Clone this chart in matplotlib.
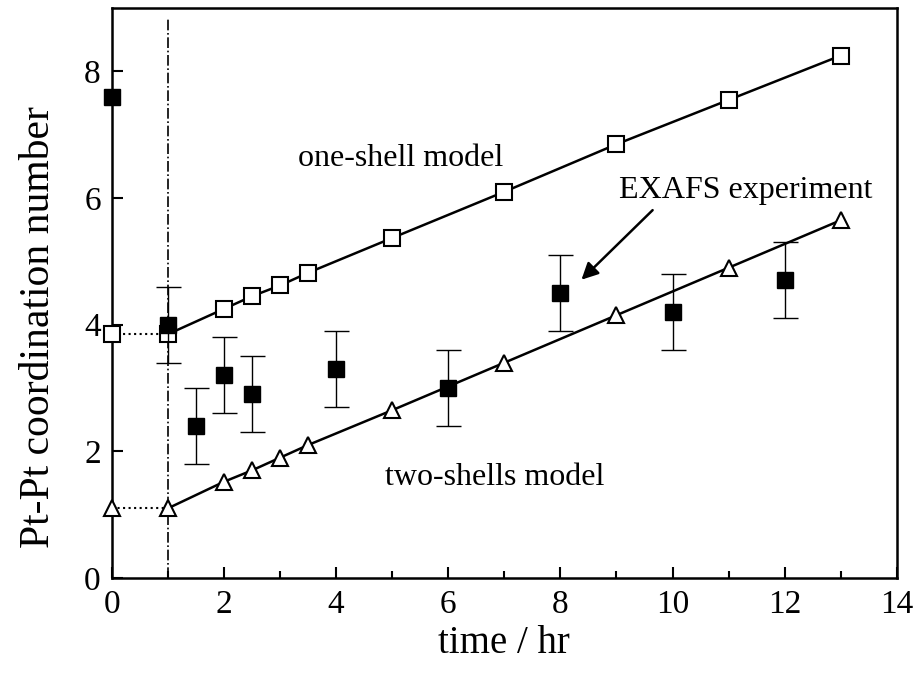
import matplotlib
matplotlib.use("Agg")
from matplotlib import pyplot as plt
from matplotlib.ticker import MultipleLocator

# model curves (time in hr)
t_model = [0, 1, 2, 2.5, 3, 3.5, 5, 7, 9, 11, 13]
one_shell = [3.85, 3.85, 4.25, 4.45, 4.62, 4.82, 5.37, 6.1, 6.85, 7.55, 8.25]
two_shells = [1.1, 1.1, 1.52, 1.7, 1.9, 2.1, 2.65, 3.4, 4.15, 4.9, 5.65]

# EXAFS points
t_exp = [1, 1.5, 2, 2.5, 4, 6, 8, 10, 12]
n_exp = [4.0, 2.4, 3.2, 2.9, 3.3, 3.0, 4.5, 4.2, 4.7]
n_err = [0.6, 0.6, 0.6, 0.6, 0.6, 0.6, 0.6, 0.6, 0.6]
t0_exp = 0
n0_exp = 7.6

plt.rcParams['font.family'] = ['Liberation Serif', 'DejaVu Serif']

fig = plt.figure(figsize=(9.17, 6.76), dpi=100)
ax = fig.add_axes([0.122, 0.145, 0.856, 0.843])

# dash-dot marker for t = 1 hr
ax.plot([1, 1], [0, 8.86], color='black', lw=1.2, ls='-.', zorder=1)

for yv, mk in ((one_shell, 's'), (two_shells, '^')):
    ax.plot(t_model[:2], yv[:2], color='black', lw=1.5, ls=':', zorder=2)
    ax.plot(t_model[1:], yv[1:], color='black', lw=1.8, zorder=2)
    ax.plot(t_model, yv, ls='none', marker=mk, ms=12 if mk == '^' else 11,
            mfc='white', mec='black', mew=1.5, zorder=4, clip_on=False)

ax.errorbar(t_exp, n_exp, yerr=n_err, fmt='s', color='black', ms=11,
            ecolor='black', elinewidth=1.0, capsize=9, capthick=1.0, zorder=5)
ax.plot([t0_exp], [n0_exp], 's', color='black', ms=11, zorder=5, clip_on=False)

ax.text(5.15, 6.62, 'one-shell model', fontsize=23, ha='center', va='center')
ax.text(6.83, 1.58, 'two-shells model', fontsize=23, ha='center', va='center')
ax.text(11.3, 6.12, 'EXAFS experiment', fontsize=23, ha='center', va='center')
ax.annotate('', xy=(8.34, 4.68), xytext=(9.68, 5.84),
            arrowprops=dict(arrowstyle='-|>', color='black', lw=1.8,
                            mutation_scale=25))

ax.set_xlim(0, 14)
ax.set_ylim(0, 9)
ax.xaxis.set_major_locator(MultipleLocator(2))
ax.xaxis.set_minor_locator(MultipleLocator(1))
ax.yaxis.set_major_locator(MultipleLocator(2))
ax.tick_params(which='both', direction='in', top=False, right=False,
               labelsize=24, width=1.5, pad=8)
ax.tick_params(which='major', length=8)
ax.tick_params(which='minor', length=5)
for sp in ax.spines.values():
    sp.set_linewidth(1.8)

ax.set_xlabel('time / hr', fontsize=28, labelpad=4)
ax.set_ylabel('Pt-Pt coordination number', fontsize=30)
ax.yaxis.set_label_coords(-0.068, 0.44)

fig.savefig('out.png', dpi=100)
